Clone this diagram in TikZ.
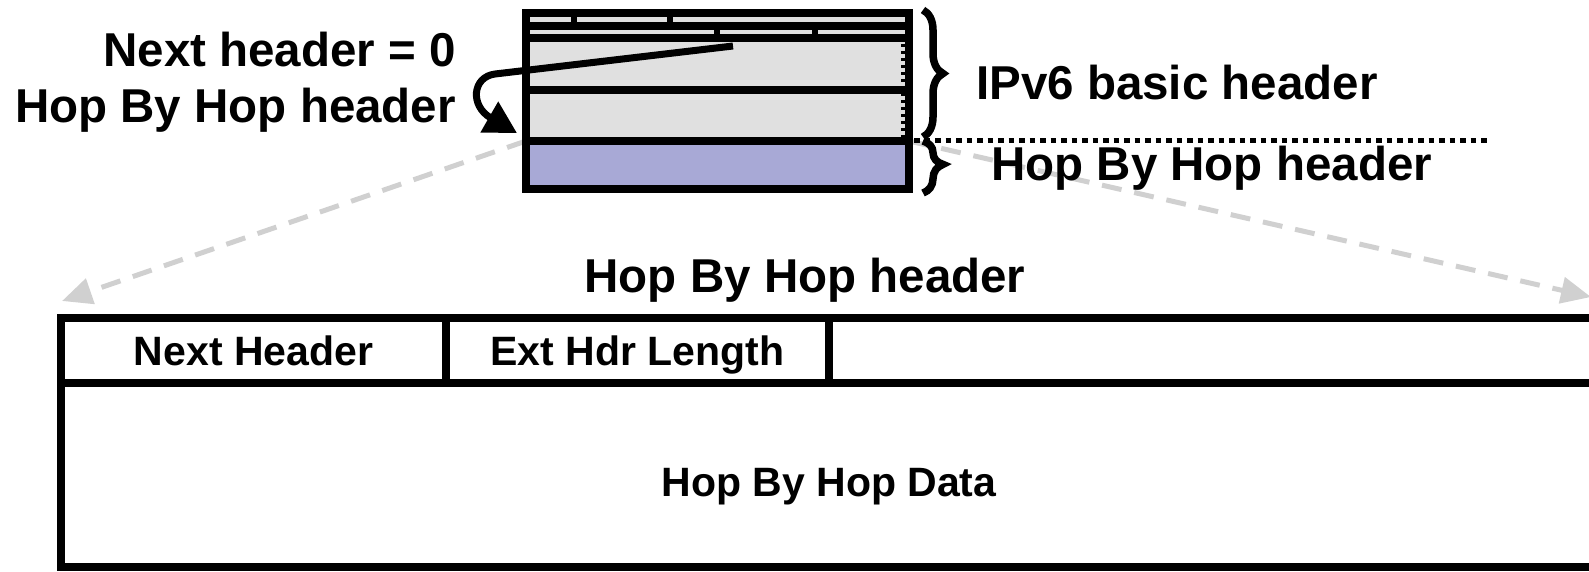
\documentclass[tikz,border=0pt]{standalone}
\usepackage{fontspec}
\setmainfont{Liberation Sans}
\usetikzlibrary{arrows.meta,decorations.pathreplacing}
\definecolor{hdrgray}{RGB}{224,224,224}
\definecolor{hbhpurple}{RGB}{168,169,214}
\definecolor{linkgray}{RGB}{208,208,208}
\begin{document}
\begin{tikzpicture}[x=1pt,y=-1pt,
  bigtext/.style={font=\fontsize{47.5}{52}\selectfont\bfseries, inner sep=0pt},
  smalltext/.style={font=\fontsize{41}{46}\selectfont\bfseries, inner sep=0pt},
  frame/.style={line width=8pt},
  tick/.style={line width=6pt},
  zoomlink/.style={linkgray, line width=5pt, dash pattern=on 20pt off 13pt,
    -{Triangle[length=30pt,width=26pt]}},
  bracket/.style={line width=7.5pt, decorate,
    decoration={brace, amplitude=20pt, raise=0pt}},
  pointer/.style={line width=7pt, -{Triangle[length=32pt,width=34pt]}}]
\useasboundingbox (0,0) rectangle (1589,572);
\clip (0,0) rectangle (1589,572);

% corners of the extension header inside the packet
\coordinate (hbhL) at (526,141);
\coordinate (hbhR) at (909,141);
\coordinate (tipL) at (62,301);
\coordinate (tipR) at (1591,297);

% expansion lines to the detailed view
\draw[zoomlink] (hbhL) -- (tipL);
\draw[zoomlink] (hbhR) -- (tipR);

% packet: IPv6 basic header followed by the Hop-by-Hop header
\fill[hdrgray] (526,13.5) rectangle (909,141);
\fill[hbhpurple] (hbhL) rectangle (909,189);
\draw[line width=4pt, dash pattern=on 3pt off 4pt] (903,44) -- (903,137);
\draw[frame] (526,26) -- (909,26);
\draw[frame] (526,38.5) -- (909,38.5);
\draw[frame] (526,90) -- (909,90);
\draw[frame] (hbhL) -- (hbhR);
\draw[tick] (573.5,13.5) -- (573.5,26);
\draw[tick] (670,13.5) -- (670,26);
\draw[tick] (717,26) -- (717,38.5);
\draw[tick] (814.5,26) -- (814.5,38.5);
\draw[frame] (526,13.5) rectangle (909,189);

% Next Header field points to the following header
\coordinate (nhField) at (733,46);
\coordinate (nhTarget) at (517,133);
\draw[pointer] (nhField) -- (495,74) .. controls (472,77) and (470,106) .. (nhTarget);

% braces and separator
\draw[bracket] (923,10) -- (923,137);
\draw[bracket, decoration={aspect=0.45}] (923,141) -- (923,193);
\draw[line width=5.5pt, dash pattern=on 5.5pt off 5pt] (914,140.5) -- (1487,140.5);

% labels of the packet
\node[bigtext, anchor=base east] (nhLabel) at (456,67) {Next header = 0};
\node[bigtext, anchor=base east] (hbhLabel) at (456,123) {Hop By Hop header};
\node[bigtext, anchor=base west] (ipv6Label) at (976,99.5) {IPv6 basic header};
\node[bigtext, anchor=base west] (hbhRight) at (991,180.5) {Hop By Hop header};

% detailed Hop-by-Hop header
\node[bigtext, anchor=base] (hbhTitle) at (805,292) {Hop By Hop header};
\draw[frame] (61,317.5) rectangle (1620,567);
\draw[frame] (61,383) -- (1620,383);
\draw[frame] (446,317.5) -- (446,383);
\draw[frame] (829,317.5) -- (829,383);
\node[smalltext, anchor=base] (nextHdr) at (253.5,365) {Next Header};
\node[smalltext, anchor=base] (extLen) at (637.5,365) {Ext Hdr Length};
\node[smalltext, anchor=base] (hbhData) at (829,496.5) {Hop By Hop Data};
\end{tikzpicture}
\end{document}
